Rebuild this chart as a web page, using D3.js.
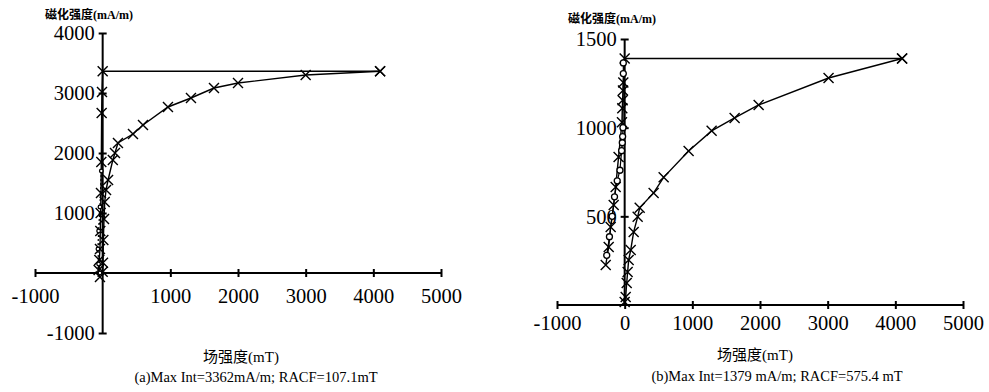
<!DOCTYPE html>
<html><head><meta charset="utf-8">
<script src="https://cdn.jsdelivr.net/npm/d3@7"></script>
<style>
body{margin:0;background:#fff;}
svg{display:block;}
text{font-family:"Liberation Serif","Noto Sans CJK SC",serif;fill:#000;}
</style></head>
<body><svg id="c" width="989" height="392"></svg>
<script>
// ---------- data (a) ----------
const aIrmField = [0, 5, 10, 20, 30, 50, 80, 150, 182, 226, 448, 596, 965, 1305, 1645, 2000, 3000, 4100];
const aIrmMag   = [20, 170, 550, 900, 1183, 1383, 1550, 1883, 2000, 2167, 2317, 2467, 2767, 2917, 3083, 3167, 3300, 3362];
const aDemField = [4100, 0, -10, -15, -20, -25, -30, -35, -40, -50, -60, -40];
const aDemMag   = [3362, 3362, 3017, 2667, 1850, 1333, 1000, 700, 400, 217, 50, -67];
const aOField   = [-20, -40, -60, -70, -60, -40];
const aOMag     = [1700, 1100, 700, 400, 150, 0];
const aXTicks = [-1000, 1000, 2000, 3000, 4000, 5000];
const aYTicks = [-1000, 1000, 2000, 3000, 4000];
// ---------- data (b) ----------
const bIrmField = [0, 15, 30, 44, 59, 89, 133, 192, 222, 428, 576, 945, 1285, 1625, 1980, 3013, 4100];
const bIrmMag   = [17, 45, 124, 186, 254, 310, 412, 497, 548, 632, 720, 869, 982, 1055, 1128, 1280, 1390];
const bDemField = [4100, 0, -20, -25, -30, -35, -40, -90, -133, -162, -207, -236, -280];
const bDemMag   = [1390, 1390, 1255, 1210, 1155, 1110, 1030, 835, 666, 564, 440, 327, 225];
const bOField   = [-20, -20, -25, -30, -35, -45, -70, -110, -150, -185, -225, -265];
const bOMag     = [1365, 1305, 1000, 950, 915, 870, 760, 700, 610, 500, 385, 280];
const bXTicks = [-1000, 0, 1000, 2000, 3000, 4000, 5000];
const bYTicks = [500, 1000, 1500];

const yTitle = "磁化强度(mA/m)";
const xTitle = "场强度(mT)";
const aCaption = "(a)Max Int=3362mA/m; RACF=107.1mT";
const bCaption = "(b)Max Int=1379 mA/m; RACF=575.4 mT";

const svg = d3.select("#c");
const fmt = d => String(d);

function zip(f, m){ return f.map((v,i)=>({x:v, y:m[i]})); }

function panel(cfg){
  const g = svg.append("g");
  const x = d3.scaleLinear().domain(cfg.xDomain).range(cfg.xRange);
  const y = d3.scaleLinear().domain(cfg.yDomain).range(cfg.yRange);
  const x0 = x(0), y0 = y(0);

  // x axis
  const xa = g.append("g").attr("transform", `translate(0,${y0})`)
    .call(d3.axisBottom(x).tickValues(cfg.xTicks).tickSize(4).tickFormat(fmt));
  xa.select(".domain").attr("d", `M${x.range()[0]},0H${x.range()[1]}`).attr("stroke-width", 2);
  xa.selectAll(".tick line").attr("y1", -4).attr("y2", 4).attr("stroke-width", 2);
  xa.selectAll(".tick text").attr("y", cfg.xLabelOff).attr("dy", null)
    .style("font-size", "20.5px").style("font-family", "Liberation Serif");

  // y axis
  const ya = g.append("g").attr("transform", `translate(${x0},0)`)
    .call(d3.axisLeft(y).tickValues(cfg.yTicks).tickSize(4).tickFormat(fmt));
  ya.select(".domain").attr("d", `M0,${y.range()[0]}V${y.range()[1]}`).attr("stroke-width", 2);
  ya.selectAll(".tick line").attr("x1", -4).attr("x2", 4).attr("stroke-width", 2);
  ya.selectAll(".tick text").attr("x", -8).attr("dy", "0.34em")
    .style("font-size", "20.5px").style("font-family", "Liberation Serif");

  const line = d3.line().x(d=>x(d.x)).y(d=>y(d.y));
  const irm = zip(cfg.irmF, cfg.irmM), dem = zip(cfg.demF, cfg.demM), oo = zip(cfg.oF, cfg.oM);

  g.append("path").attr("d", line(oo)).attr("fill","none").attr("stroke","#000")
    .attr("stroke-width",1.2).attr("stroke-dasharray", cfg.oDash);
  g.append("path").attr("d", line(irm)).attr("fill","none").attr("stroke","#000").attr("stroke-width",1.4);
  g.append("path").attr("d", line(dem)).attr("fill","none").attr("stroke","#000").attr("stroke-width",1.4);

  const s = 5;
  function crosses(data){
    data.forEach(d=>{
      const px = x(d.x), py = y(d.y);
      g.append("path").attr("d", `M${px-s},${py-s}L${px+s},${py+s}M${px-s},${py+s}L${px+s},${py-s}`)
        .attr("stroke","#000").attr("stroke-width",1.4).attr("fill","none");
    });
  }
  crosses(irm); crosses(dem);
  g.selectAll(null).data(oo).enter().append("circle")
    .attr("cx", d=>x(d.x)).attr("cy", d=>y(d.y)).attr("r", cfg.oR)
    .attr("fill","#fff").attr("stroke","#000").attr("stroke-width",1.3);

  // titles
  g.append("text").attr("x", cfg.yTitlePos[0]).attr("y", cfg.yTitlePos[1])
    .style("font-size","12px").style("font-weight","bold").text(yTitle);
  g.append("text").attr("x", cfg.xTitlePos[0]).attr("y", cfg.xTitlePos[1]).attr("text-anchor","middle")
    .style("font-size","15px").text(xTitle);
  g.append("text").attr("x", cfg.capPos[0]).attr("y", cfg.capPos[1]).attr("text-anchor","middle")
    .style("font-size","14.5px").text(cfg.caption);
}

panel({
  xDomain:[-1000,5000], xRange:[35,441], yDomain:[-1000,4000], yRange:[333,33],
  xTicks:aXTicks, yTicks:aYTicks, xLabelOff:30,
  irmF:aIrmField, irmM:aIrmMag, demF:aDemField, demM:aDemMag, oF:aOField, oM:aOMag,
  oDash:"2,2", oR:1.8,
  yTitlePos:[45,19], xTitlePos:[241,362], capPos:[256,382], caption:aCaption
});
panel({
  xDomain:[-1000,5000], xRange:[557,963], yDomain:[0,1500], yRange:[305,39],
  xTicks:bXTicks, yTicks:bYTicks, xLabelOff:25,
  irmF:bIrmField, irmM:bIrmMag, demF:bDemField, demM:bDemMag, oF:bOField, oM:bOMag,
  oDash:null, oR:3,
  yTitlePos:[568,23], xTitlePos:[755,360], capPos:[777,381], caption:bCaption
});
</script></body></html>
